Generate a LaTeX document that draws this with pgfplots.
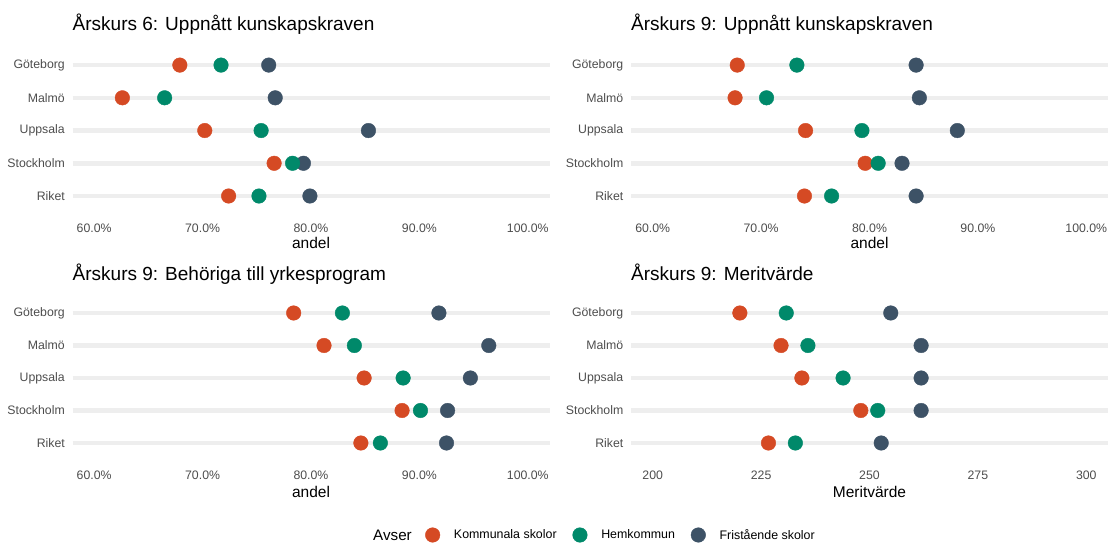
\documentclass[border=0pt]{standalone}
\usepackage{pgfplots}
\usepackage{pgfplotstable}
\pgfplotsset{compat=1.18}
\usepackage{fontspec}
\setmainfont{Liberation Sans}
\definecolor{cRed}{RGB}{213,74,36}
\definecolor{cGreen}{RGB}{0,137,106}
\definecolor{cDark}{RGB}{61,82,102}
\definecolor{gridgray}{RGB}{238,238,238}
\definecolor{tickgray}{RGB}{77,77,77}

% y: 5 Göteborg, 4 Malmö, 3 Uppsala, 2 Stockholm, 1 Riket
\pgfplotstableread{
y k h f
5 67.9 71.7 76.1
4 62.6 66.5 76.7
3 70.2 75.4 85.3
2 76.6 78.3 79.3
1 72.4 75.2 79.9
}\tabA
\pgfplotstableread{
y k h f
5 67.8 73.3 84.3
4 67.6 70.5 84.6
3 74.1 79.3 88.1
2 79.6 80.8 83.0
1 74.0 76.5 84.3
}\tabB
\pgfplotstableread{
y k h f
5 78.4 82.9 91.8
4 81.2 84.0 96.4
3 84.9 88.5 94.7
2 88.4 90.1 92.6
1 84.6 86.4 92.5
}\tabC
\pgfplotstableread{
y k h f
5 220.1 230.8 254.9
4 229.6 235.8 261.9
3 234.4 243.9 261.9
2 248.0 251.9 261.9
1 226.7 232.9 252.7
}\tabD

\pgfplotsset{
 dotpanel/.style={
  scale only axis, width=477pt,
  ymin=0.4, ymax=5.6, ytick={1,2,3,4,5},
  yticklabels={Riket,Stockholm,Uppsala,Malmö,Göteborg},
  axis line style={draw=none}, major tick length=0pt,
  ymajorgrids, grid style={line width=4.5pt, gridgray},
  tick label style={font=\fontsize{12.3}{14}\selectfont, text=tickgray},
  yticklabel style={anchor=east, inner sep=0pt, xshift=-7.5pt},
  xticklabel style={anchor=center, inner sep=0pt, yshift=-12.4pt},
  xlabel style={font=\fontsize{15.5}{18}\selectfont, at={(axis description cs:0.5,0)}, anchor=center, inner sep=0pt},
  title style={font=\fontsize{19}{22}\selectfont, at={(axis description cs:0,1)}, anchor=base west, inner sep=0pt},
  clip=false,
  every axis plot/.append style={only marks, mark=*, mark size=7.3pt},
 },
 pctpanel/.style={dotpanel, xmin=58, xmax=102, xtick={60,70,80,90,100},
   xticklabels={60.0\%,70.0\%,80.0\%,90.0\%,100.0\%}},
 toprow/.style={height=170.2pt, title style={yshift=8.6pt}, xlabel style={yshift=-27.4pt}},
 botrow/.style={height=169pt, title style={yshift=6.5pt}, xlabel style={yshift=-29.5pt}},
}

\begin{document}
\begin{tikzpicture}[x=1pt,y=1pt]
\useasboundingbox (0,0) rectangle (1108,543);

% top left
\begin{axis}[pctpanel, toprow, at={(72.5pt,327.35pt)}, anchor=south west,
  title={Årskurs 6: Uppnått kunskapskraven}, xlabel={andel}]
\addplot[cRed] table[x=k,y=y] {\tabA};
\addplot[cDark] table[x=f,y=y] {\tabA};
\addplot[cGreen] table[x=h,y=y] {\tabA};
\end{axis}

% top right
\begin{axis}[pctpanel, toprow, at={(631pt,327.35pt)}, anchor=south west,
  title={Årskurs 9: Uppnått kunskapskraven}, xlabel={andel}]
\addplot[cRed] table[x=k,y=y] {\tabB};
\addplot[cDark] table[x=f,y=y] {\tabB};
\addplot[cGreen] table[x=h,y=y] {\tabB};
\end{axis}

% bottom left
\begin{axis}[pctpanel, botrow, at={(72.5pt,80.5pt)}, anchor=south west,
  title={Årskurs 9: Behöriga till yrkesprogram}, xlabel={andel},
  legend style={at={(axis description cs:0.7398,-0.429)}, anchor=west,
    draw=none, fill=none, inner sep=0pt, outer sep=0pt,
    legend columns=-1, font=\fontsize{12.4}{14}\selectfont,
    nodes={inner sep=0pt, outer sep=0pt},
    /tikz/every odd column/.append style={column sep=14pt},
    /tikz/every even column/.append style={column sep=16pt}},
  legend image code/.code={\draw[mark repeat=2,mark phase=2,#1] plot coordinates {(0pt,0pt)(7.3pt,0pt)(14.6pt,0pt)};}]
\addlegendimage{cRed, only marks, mark=*, mark size=7.3pt}
\addlegendentry{Kommunala skolor}
\addlegendimage{cGreen, only marks, mark=*, mark size=7.3pt}
\addlegendentry{Hemkommun}
\addlegendimage{cDark, only marks, mark=*, mark size=7.3pt}
\addlegendentry{Fristående skolor}
\addplot[cRed, forget plot] table[x=k,y=y] {\tabC};
\addplot[cDark, forget plot] table[x=f,y=y] {\tabC};
\addplot[cGreen, forget plot] table[x=h,y=y] {\tabC};
\end{axis}

% bottom right
\begin{axis}[dotpanel, botrow, at={(631pt,80.5pt)}, anchor=south west,
  xmin=195, xmax=305, xtick={200,225,250,275,300}, xticklabels={200,225,250,275,300},
  title={Årskurs 9: Meritvärde}, xlabel={Meritvärde}]
\addplot[cRed] table[x=k,y=y] {\tabD};
\addplot[cDark] table[x=f,y=y] {\tabD};
\addplot[cGreen] table[x=h,y=y] {\tabD};
\end{axis}

\node[anchor=west, inner sep=0pt, font=\fontsize{15.2}{18}\selectfont] at (373,8) {Avser};
\end{tikzpicture}
\end{document}
